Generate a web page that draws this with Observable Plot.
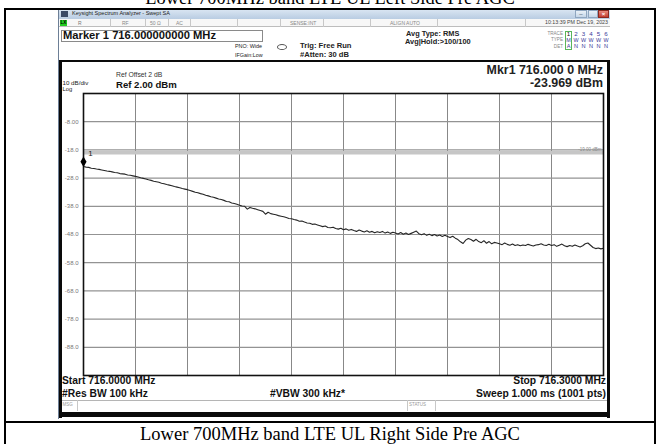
<!DOCTYPE html>
<html><head><meta charset="utf-8">
<script src="https://cdn.jsdelivr.net/npm/d3@7"></script>
<script src="https://cdn.jsdelivr.net/npm/@observablehq/plot@0.6"></script>
<style>
body{margin:0;background:#fff;}
#page{position:relative;width:660px;height:444px;overflow:hidden;background:#fff;font-family:"Liberation Sans",Arial,sans-serif;}
.a{position:absolute;white-space:nowrap;line-height:1;}
.box{position:absolute;box-sizing:border-box;}
</style></head><body><div id="page"></div>
<script>
// ---- data ----
const startMHz = 716.0;
const stopMHz = 716.3;
const traceDbm = [
-23.9,-24.1,-24.2,-24.5,-24.6,-24.8,-24.9,-25.1,-25.3,-25.5,
-25.6,-25.8,-26.0,-26.1,-26.4,-26.5,-26.6,-26.9,-27.0,-27.2,
-27.4,-27.6,-27.9,-28.1,-28.3,-28.6,-28.8,-29.1,-29.3,-29.5,
-29.8,-30.0,-30.3,-30.5,-30.7,-31.0,-31.2,-31.4,-31.7,-31.9,
-32.1,-32.4,-32.7,-33.0,-33.2,-33.5,-33.7,-34.1,-34.3,-34.6,
-34.8,-35.1,-35.4,-35.6,-35.9,-36.3,-36.4,-36.8,-37.0,-37.3,
-37.6,-37.9,-38.0,-39.0,-38.4,-38.7,-38.9,-39.2,-39.5,-39.8,
-40.8,-40.1,-40.6,-40.8,-41.0,-41.3,-41.5,-41.7,-42.0,-42.3,
-42.4,-42.7,-42.9,-43.3,-43.2,-43.6,-43.9,-44.0,-44.4,-44.3,
-44.6,-44.9,-45.2,-45.0,-45.5,-45.6,-45.4,-45.9,-46.1,-45.8,
-46.3,-46.0,-46.5,-46.2,-46.6,-46.9,-46.4,-46.8,-47.1,-46.7,
-47.2,-46.9,-47.4,-47.0,-47.3,-46.9,-47.5,-47.1,-47.6,-47.2,
-47.5,-47.8,-47.3,-47.9,-47.5,-48.0,-47.6,-47.2,-46.8,-47.7,
-48.1,-47.7,-48.3,-47.9,-48.4,-48.0,-48.5,-48.2,-48.7,-48.3,
-48.7,-49.1,-48.6,-49.3,-49.8,-50.6,-51.2,-50.0,-49.4,-49.8,
-50.4,-49.7,-50.5,-50.9,-50.2,-51.1,-50.5,-51.3,-50.8,-51.0,
-51.3,-51.6,-51.0,-51.5,-51.8,-51.4,-51.9,-51.6,-52.0,-51.7,
-51.9,-51.5,-51.8,-52.1,-51.7,-51.6,-51.3,-51.7,-51.9,-51.5,
-51.9,-51.6,-52.2,-51.8,-51.4,-52.0,-52.3,-51.9,-52.2,-51.7,
-52.1,-52.4,-52.0,-51.3,-51.0,-51.8,-52.6,-53.0,-52.8,-53.1,
-52.9
];
const xGridMHz = [716.00,716.03,716.06,716.09,716.12,716.15,716.18,716.21,716.24,716.27,716.30];
const yGridDbm = [2,-8,-18,-28,-38,-48,-58,-68,-78,-88,-98];
const yTickValues = [-8,-18,-28,-38,-48,-58,-68,-78,-88];
const yTickLabels = ["-8.00","-18.0","-28.0","-38.0","-48.0","-58.0","-68.0","-78.0","-88.0"];
const displayLineDbm = [-19];
const displayLineLabel = ["-19.00 dBm"];
const markerPoint = [{freq: 716.0, dbm: -23.969, label: "1"}];

const trace = traceDbm.map((v, i) => ({freq: startMHz + i * (stopMHz - startMHz) / (traceDbm.length - 1), dbm: v}));
const tickLabelOf = new Map(yTickValues.map((v, i) => [v, yTickLabels[i]]));

// ---- page helpers ----
const page = document.getElementById("page");
function box(x, y, w, h, style) {
  const d = document.createElement("div"); d.className = "box";
  Object.assign(d.style, {left: x + "px", top: y + "px", width: w + "px", height: h + "px"}, style || {});
  page.appendChild(d); return d;
}
function txt(s, x, cy, size, o = {}) {
  const d = document.createElement("div"); d.className = "a"; d.textContent = s;
  const st = {top: (cy - size / 2) + "px", fontSize: size + "px", color: o.color || "#111", fontWeight: o.bold ? "bold" : "normal"};
  if (o.font) st.fontFamily = o.font;
  if (o.ls) st.letterSpacing = o.ls + "px";
  if (o.anchor === "end") st.right = (660 - x) + "px";
  else if (o.anchor === "middle") { st.left = x + "px"; st.transform = "translateX(-50%)"; }
  else st.left = x + "px";
  Object.assign(d.style, st); page.appendChild(d); return d;
}
const serif = '"Liberation Serif","Times New Roman",serif';

// document captions
txt("Lower 700MHz band LTE UL Left Side Pre AGC", 330, -1.5, 18.5, {font: serif, anchor: "middle", color: "#000"});
txt("Lower 700MHz band LTE UL Right Side Pre AGC", 330, 434.5, 18.5, {font: serif, anchor: "middle", color: "#000"});

// analyzer window
box(58, 9, 552, 410, {background: "#fff"});
box(58, 9, 552, 10, {background: "linear-gradient(#dce7f3,#b9cce2)"});
box(61, 11, 7, 6, {background: "#3a4a66"});
txt("Keysight Spectrum Analyzer - Swept SA", 72, 14, 5.5, {color: "#222"});
box(575, 10, 12, 8, {background: "linear-gradient(#eaf1f8,#c6d6e8)", border: "1px solid #8fa6c0"});
box(588, 10, 10, 8, {background: "linear-gradient(#eaf1f8,#c6d6e8)", border: "1px solid #8fa6c0"});
box(598, 10, 11, 8, {background: "linear-gradient(#e88a7e,#c23b2e)", border: "1px solid #8a2a20"});
txt("–", 581, 14, 6, {anchor: "middle", color: "#345"});
txt("×", 603.5, 14, 6, {anchor: "middle", color: "#fff", bold: true});

// status row
box(58, 19, 552, 8, {background: "#f7f7f7", borderBottom: "1px solid #bdbdbd"});
box(60, 20, 7, 6, {background: "#22cc22"});
txt("LX", 60.5, 23, 4.5, {color: "#000", bold: true});
[110, 145, 168, 190, 237, 280, 323, 370, 437, 525].forEach(x => box(x, 19, 1, 8, {background: "#c8c8c8"}));
txt("R", 78, 23, 5, {color: "#777"});
txt("RF", 122, 23, 5, {color: "#888"});
txt("50 Ω", 150, 23, 5, {color: "#888"});
txt("AC", 176, 23, 5, {color: "#888"});
txt("SENSE:INT", 290, 23, 5, {color: "#888"});
txt("ALIGN AUTO", 390, 23, 5, {color: "#888"});
txt("10:13:39 PM Dec 19, 2023", 608, 23, 5.3, {anchor: "end", color: "#444"});

// marker box & settings
box(61, 30, 202, 12, {border: "1px solid #8a8a8a", background: "#fff"});
txt("Marker 1 716.000000000 MHz", 63, 36, 11.2, {bold: true, color: "#111"});
txt("PNO: Wide", 235, 47, 5.4, {color: "#222"});
txt("IFGain:Low", 235, 55.5, 5.4, {color: "#222"});
box(277, 44, 10, 6, {border: "1px solid #555", borderRadius: "50%"});
txt("Trig: Free Run", 300, 46, 7.6, {bold: true, color: "#222"});
txt("#Atten: 30 dB", 300, 54.7, 7.6, {bold: true, color: "#222"});
txt("Avg Type: RMS", 406, 34, 7.4, {bold: true, color: "#222"});
txt("Avg|Hold:>100/100", 405, 42, 7.4, {bold: true, color: "#222"});
txt("TRACE", 563, 34, 4.6, {anchor: "end", color: "#888"});
txt("TYPE", 563, 40.5, 4.6, {anchor: "end", color: "#888"});
txt("DET", 563, 47, 4.6, {anchor: "end", color: "#888"});
box(565, 31, 7, 19, {border: "1px solid #5ab55a"});
const cols = [568.5, 576, 583.5, 591, 598.5, 606];
["1","2","3","4","5","6"].forEach((c, i) => txt(c, cols[i], 34, 6.2, {anchor: "middle", color: i === 0 ? "#111" : "#3a3a9a"}));
["M","W","W","W","W","W"].forEach((c, i) => txt(c, cols[i], 40.5, 5.4, {anchor: "middle", color: "#3a3a9a"}));
["A","N","N","N","N","N"].forEach((c, i) => txt(c, cols[i], 47, 5.6, {anchor: "middle", color: "#3a3a9a"}));

// plot header texts
txt("Ref Offset 2 dB", 116, 75, 6.8, {color: "#333"});
txt("Ref 2.00 dBm", 116, 84.5, 9.6, {bold: true, color: "#111"});
txt("10 dB/div", 62.5, 83.5, 6.2, {color: "#222"});
txt("Log", 62.5, 90, 5.8, {color: "#222"});
txt("Mkr1 716.000 0 MHz", 603, 70.5, 12.4, {anchor: "end", bold: true, color: "#222"});
txt("-23.969 dBm", 603, 83.5, 12.4, {anchor: "end", bold: true, color: "#222"});

// bottom texts
txt("Start 716.0000 MHz", 62, 381, 10.3, {bold: true, color: "#111"});
txt("#Res BW 100 kHz", 62, 394, 10.3, {bold: true, color: "#111"});
txt("#VBW 300 kHz*", 270, 394, 10.3, {bold: true, color: "#111"});
txt("Stop 716.3000 MHz", 606, 381, 10.3, {anchor: "end", bold: true, color: "#111"});
txt("Sweep  1.000 ms (1001 pts)", 606, 394, 10.3, {anchor: "end", bold: true, color: "#111", ls: 0});
box(61, 400, 547, 11, {borderTop: "1px solid #b5b5b5"});
box(77, 400, 1, 11, {background: "#c8c8c8"});
box(407, 400, 1, 11, {background: "#c8c8c8"});
box(435, 400, 1, 11, {background: "#c8c8c8"});
txt("MSG", 62.5, 405.5, 4.5, {color: "#999"});
txt("STATUS", 409, 405.5, 4.5, {color: "#999"});

// ---- chart ----
const chart = Plot.plot({
  width: 552, height: 292,
  marginLeft: 25, marginRight: 7, marginTop: 5, marginBottom: 5,
  style: {background: "transparent", fontFamily: '"Liberation Sans",Arial,sans-serif', fontSize: "6px", color: "#777"},
  x: {domain: [startMHz, stopMHz], axis: null, label: null},
  y: {domain: [-98, 2], axis: null, label: null},
  marks: [
    Plot.ruleX(xGridMHz, {stroke: "#888", strokeWidth: 1, strokeOpacity: 1}),
    Plot.ruleY(yGridDbm, {stroke: "#939393", strokeWidth: 1.2, strokeOpacity: 1}),
    Plot.ruleY(displayLineDbm, {stroke: "#c6c6c6", strokeWidth: 3.5, strokeOpacity: 1}),
    Plot.text(displayLineDbm, {x: stopMHz, y: d => d, text: (d, i) => displayLineLabel[i], textAnchor: "end", dx: -2, dy: -3.5, fontSize: 4.5, fill: "#888"}),
    Plot.axisY(yTickValues, {tickSize: 0, tickPadding: 5, tickFormat: d => tickLabelOf.get(d), fontSize: 6, fill: "#777", label: null}),
    Plot.line(trace, {x: "freq", y: "dbm", stroke: "#262626", strokeWidth: 1.1}),
    Plot.frame({stroke: "#111", strokeWidth: 1.6}),
    Plot.dot(markerPoint, {x: "freq", y: "dbm", symbol: "diamond", fill: "#000", stroke: "none", r: 3.2, dy: -5}),
    Plot.text(markerPoint, {x: "freq", y: "dbm", text: "label", dx: 7, dy: -13.5, fontSize: 8, fill: "#222", textAnchor: "middle"})
  ]
});
const holder = document.createElement("div");
holder.style.cssText = "position:absolute;left:58px;top:88px;";
holder.appendChild(chart);
page.appendChild(holder);

// analyzer frame lines (on top)
box(59, 60, 3, 358, {background: "#0a0a0a"});
box(59, 60, 551, 2, {background: "#0a0a0a"});
box(607, 60, 3, 358, {background: "#0a0a0a"});
box(58, 412, 552, 5, {background: "#0a0a0a"});
box(58, 9, 552, 1, {background: "#6d7f96"});
box(58, 9, 1, 410, {background: "#6d7f96"});

// document table lines
box(4, 8, 2, 436, {background: "#000"});
box(654, 8, 2, 436, {background: "#000"});
box(4, 8, 652, 1.5, {background: "#000"});
box(4, 420.5, 652, 2, {background: "#000"});
</script></body></html>
